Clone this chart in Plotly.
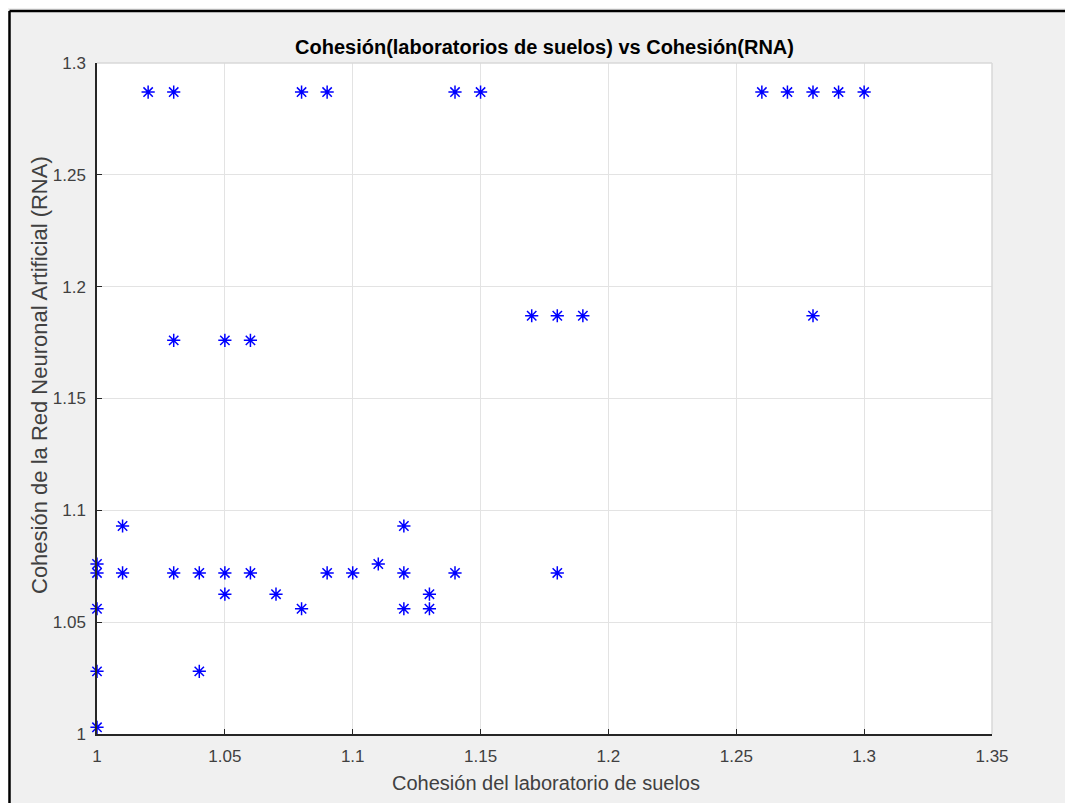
import plotly.graph_objects as go

# Data
x_lab = [1.00, 1.00, 1.00, 1.00, 1.00,
         1.01, 1.01,
         1.02,
         1.03, 1.03, 1.03,
         1.04, 1.04,
         1.05, 1.05, 1.05,
         1.06, 1.06,
         1.07,
         1.08, 1.08,
         1.09, 1.09,
         1.10,
         1.11,
         1.12, 1.12, 1.12,
         1.13, 1.13,
         1.14, 1.14,
         1.15,
         1.17,
         1.18, 1.18,
         1.19,
         1.26, 1.27, 1.28, 1.28, 1.29, 1.30]
y_rna = [1.003, 1.028, 1.056, 1.072, 1.076,
         1.093, 1.072,
         1.287,
         1.287, 1.176, 1.072,
         1.072, 1.028,
         1.176, 1.072, 1.0625,
         1.176, 1.072,
         1.0625,
         1.287, 1.056,
         1.287, 1.072,
         1.072,
         1.076,
         1.093, 1.072, 1.056,
         1.0625, 1.056,
         1.287, 1.072,
         1.287,
         1.187,
         1.187, 1.072,
         1.187,
         1.287, 1.287, 1.287, 1.187, 1.287, 1.287]

x_ticks = [1, 1.05, 1.1, 1.15, 1.2, 1.25, 1.3, 1.35]
x_tick_text = ["1", "1.05", "1.1", "1.15", "1.2", "1.25", "1.3", "1.35"]
y_ticks = [1, 1.05, 1.1, 1.15, 1.2, 1.25, 1.3]
y_tick_text = ["1", "1.05", "1.1", "1.15", "1.2", "1.25", "1.3"]

FONT = "Liberation Sans, Arial, Helvetica, sans-serif"
OFF = 8  # page body margin
W, H = 1073 - OFF, 803 - OFF
# plot area in screen pixels
SX0, SX1, SY0, SY1 = 97, 992, 63, 734
L, R, T, B = SX0 - OFF, W - (SX1 - OFF), SY0 - OFF, H - (SY1 - OFF)

def px(sx):
    return (sx - SX0) / (SX1 - SX0)

def py(sy):
    return (SY1 - sy) / (SY1 - SY0)

fig = go.Figure()
fig.add_trace(go.Scatter(
    x=x_lab, y=y_rna, mode="markers",
    marker=dict(symbol="asterisk-open", size=11, color="#0000ff",
                line=dict(color="#0000ff", width=1.5)),
    cliponaxis=False, showlegend=False,
))

axis_common = dict(
    showgrid=True, gridcolor="#e3e3e3", gridwidth=1,
    zeroline=False, showline=True, linecolor="#262626", linewidth=1.5,
    ticks="inside", ticklen=5, tickcolor="#262626", tickwidth=1,
    tickfont=dict(family=FONT, size=17, color="#404040"),
    mirror=False,
)

fig.update_layout(
    width=W, height=H,
    margin=dict(l=L, r=R, t=T, b=B, pad=0),
    paper_bgcolor="#f0f0f0", plot_bgcolor="#ffffff",
    title=dict(text="<b>Cohesión(laboratorios de suelos) vs Cohesión(RNA)</b>",
               x=px(544.5), xref="paper", xanchor="center",
               y=1 - (47 - OFF) / H, yref="container", yanchor="middle",
               font=dict(family=FONT, size=20, color="#000000")),
    xaxis=dict(range=[1, 1.35], tickvals=x_ticks, ticktext=x_tick_text,
               ticklabelstandoff=6, **axis_common),
    yaxis=dict(range=[1, 1.3], tickvals=y_ticks, ticktext=y_tick_text,
               ticklabelstandoff=6, **axis_common),
    annotations=[
        dict(text="Cohesión del laboratorio de suelos", xref="paper", yref="paper",
             x=px(546), y=py(783), xanchor="center", yanchor="middle",
             showarrow=False, font=dict(family=FONT, size=20, color="#404040")),
        dict(text="Cohesión de la Red Neuronal Artificial (RNA)", xref="paper", yref="paper",
             x=px(40), y=py(375), xanchor="center", yanchor="middle", textangle=-90,
             showarrow=False, font=dict(family=FONT, size=22, color="#404040")),
    ],
    shapes=[
        dict(type="line", xref="paper", yref="paper", x0=0, x1=1, y0=1, y1=1,
             line=dict(color="#d9d9d9", width=1.5), layer="above"),
        dict(type="line", xref="paper", yref="paper", x0=1, x1=1, y0=0, y1=1,
             line=dict(color="#d9d9d9", width=1.5), layer="above"),
        dict(type="line", xref="paper", yref="paper", x0=px(9.5), x1=px(1090),
             y0=py(11), y1=py(11), line=dict(color="#000000", width=2.5)),
        dict(type="line", xref="paper", yref="paper", x0=px(9.5), x1=px(9.5),
             y0=py(11), y1=py(820), line=dict(color="#000000", width=2.5)),
    ],
)

fig.write_html("out.html")
